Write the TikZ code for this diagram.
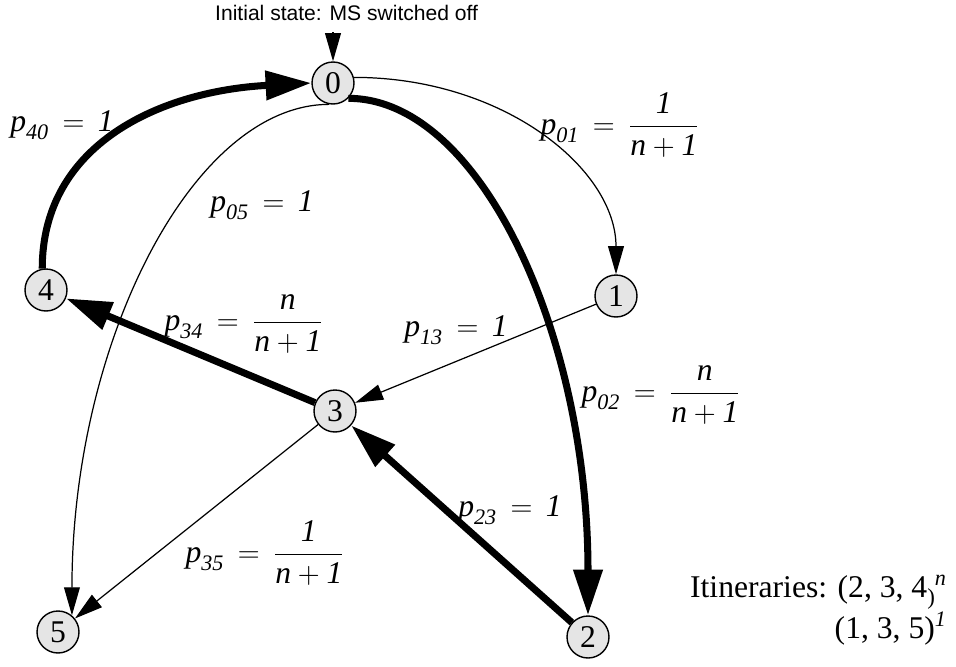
\documentclass[tikz,border=0pt]{standalone}
\usepackage{amsmath}
\usepackage{fontspec}
\setmainfont{Liberation Serif}
\newfontfamily\titlefont{Liberation Sans}
\usetikzlibrary{arrows.meta}

\begin{document}
\begin{tikzpicture}[x=0.02cm,y=-0.02cm,font=\fontsize{18}{22}\selectfont,
  stnode/.style={circle,draw,fill=black!10,line width=0.8pt,minimum size=0.84cm,inner sep=0pt},
  thinedge/.style={line width=0.7pt,-{Triangle[length=16pt,width=9pt]}},
  thickedge/.style={line width=4pt,-{Triangle[length=26pt,width=16pt]}}]

  \useasboundingbox (0,0) rectangle (956,666);

  % ---------- states ----------
  \node[stnode] (n0) at (333,83)  {0};
  \node[stnode] (n1) at (616,296) {1};
  \node[stnode] (n2) at (588,637) {2};
  \node[stnode] (n3) at (335,411) {3};
  \node[stnode] (n4) at (46,290)  {4};
  \node[stnode] (n5) at (58,632)  {5};

  % initial state
  \node[font=\titlefont\fontsize{12}{14}\selectfont,anchor=base west] (init) at (209,20)
    {Initial state: MS switched off};
  \coordinate (initpt) at (333,32);
  \draw[thinedge] (initpt) -- (n0);

  % ---------- transitions ----------
  \draw[thinedge] (n0.15) .. controls +(150,0) and +(0,-105) .. (n1.north);
  \draw[thickedge] (n0.-45) .. controls +(131,0) and +(0,-283) .. (n2.north);
  \draw[thinedge] (n0.-100) .. controls +(-137,0) and +(0,-272) .. (n5.50);
  \draw[thickedge] (n4.100) .. controls +(0,-125) and +(-150,8) .. (n0.west);
  \draw[thinedge] (n1) -- (n3);
  \draw[thickedge] (n3) -- (n4);
  \draw[thickedge] (n2) -- (n3);
  \draw[thinedge] (n3) -- (n5);

  % probabilities
  \node (p40) at (62,125)  {$\textit{p}_{\textit{40}}\,=\,\textit{1}$};
  \node (p05) at (262,205) {$\textit{p}_{\textit{05}}\,=\,\textit{1}$};
  \node (p01) at (620,125) {$\textit{p}_{\textit{01}}\,=\,\dfrac{\textit{1}}{\textit{n} + \textit{1}}$};
  \node (p34) at (244,324) {$\textit{p}_{\textit{34}}\,=\,\dfrac{\textit{n}}{\textit{n} + \textit{1}}$};
  \node (p13) at (456,330) {$\textit{p}_{\textit{13}}\,=\,\textit{1}$};
  \node (p02) at (661,395) {$\textit{p}_{\textit{02}}\,=\,\dfrac{\textit{n}}{\textit{n} + \textit{1}}$};
  \node (p23) at (510,510) {$\textit{p}_{\textit{23}}\,=\,\textit{1}$};
  \node (p35) at (265,553) {$\textit{p}_{\textit{35}}\,=\,\dfrac{\textit{1}}{\textit{n} + \textit{1}}$};

  % itineraries
  \node[anchor=base east] (it1) at (953,597)
    {Itineraries: (2, 3, 4{\fontsize{13}{13}\selectfont\raisebox{-4pt}{)}}\textsuperscript{\textit{n}}};
  \node[anchor=base east] (it2) at (953,638) {(1, 3, 5)\textsuperscript{\textit{1}}};

\end{tikzpicture}
\end{document}
